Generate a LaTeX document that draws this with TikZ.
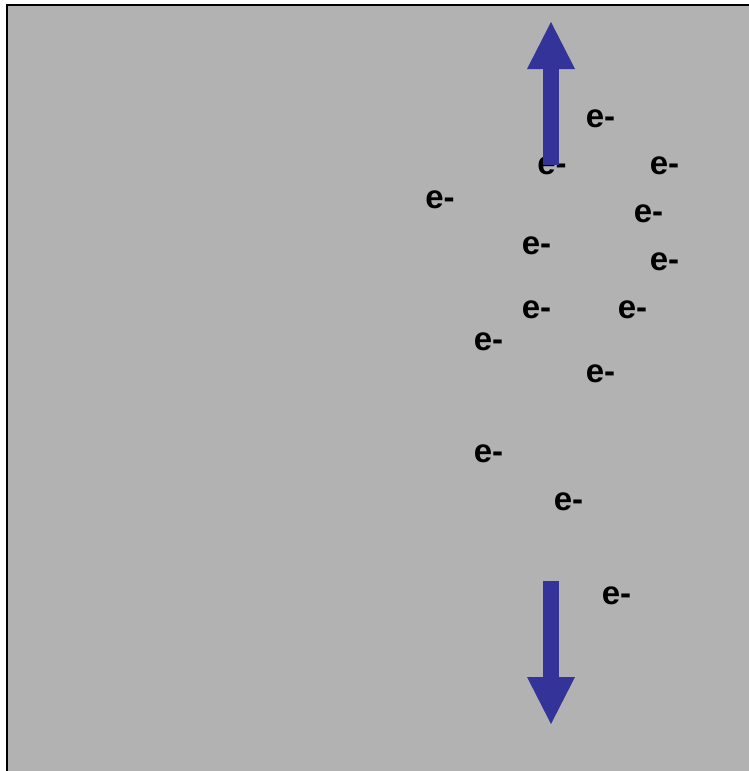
\documentclass[tikz,border=0pt]{standalone}
\usepackage{fontspec}
\setmainfont{Liberation Sans}
\usetikzlibrary{arrows.meta}
\definecolor{plate}{HTML}{B2B2B2}
\definecolor{fieldblue}{HTML}{333399}

\begin{document}
\begin{tikzpicture}
[
  x=1pt, y=-1pt,
  electron/.style={inner sep=0pt, anchor=base, font=\fontsize{33}{40}\selectfont\bfseries},
  fieldarrow/.style={draw=fieldblue, line width=16pt,
    -{Triangle[width=48pt,length=47pt,line width=0pt,fill=fieldblue]}}
]
  \useasboundingbox (0,0) rectangle (749,771);
  \begin{scope}
    \clip (0,0) rectangle (749,771);
    \draw[line width=2pt, fill=plate] (7,5) rectangle (770,790);
  \end{scope}

  \node[electron] (e1) at (600.5,127) {e-};
  \node[electron] (e2) at (552,174) {e-};
  \node[electron] (e3) at (664.5,174) {e-};
  \node[electron] (e4) at (440,208) {e-};
  \node[electron] (e5) at (648.5,222.5) {e-};
  \node[electron] (e6) at (536.5,254) {e-};
  \node[electron] (e7) at (664.5,270.5) {e-};
  \node[electron] (e8) at (536.5,318) {e-};
  \node[electron] (e9) at (632.5,318) {e-};
  \node[electron] (e10) at (488.5,350) {e-};
  \node[electron] (e11) at (600.5,382) {e-};
  \node[electron] (e12) at (488.5,462) {e-};
  \node[electron] (e13) at (568.5,510) {e-};
  \node[electron] (e14) at (616.5,604) {e-};

  \coordinate (upfoot) at (551,165);
  \coordinate (uptip) at (551,22);
  \coordinate (downfoot) at (551,581);
  \coordinate (downtip) at (551,724);
  \draw[fieldarrow] (upfoot) -- (uptip);
  \draw[fieldarrow] (downfoot) -- (downtip);
\end{tikzpicture}
\end{document}
